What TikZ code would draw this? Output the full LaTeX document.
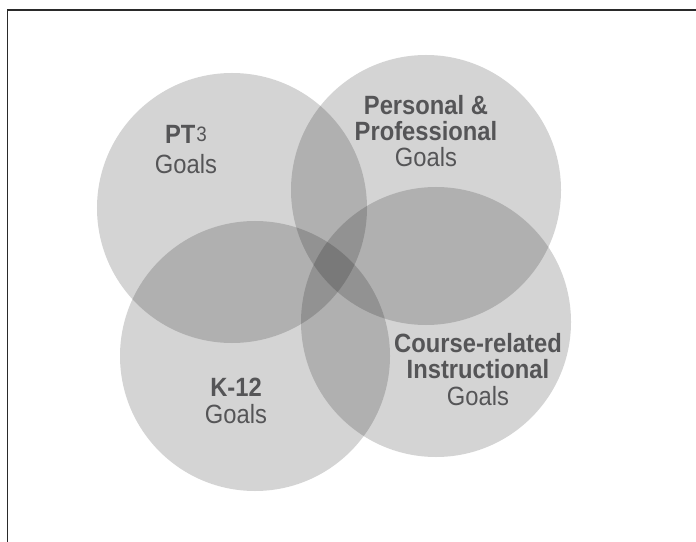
\documentclass[tikz,border=0pt]{standalone}
\usepackage{fontspec}
\setmainfont[FakeStretch=0.9]{Liberation Sans}
\definecolor{txt}{HTML}{555557}
\definecolor{framec}{HTML}{2A2A2A}
\begin{document}
\begin{tikzpicture}[x=1bp,y=-1bp,
  goal/.style={circle, minimum size=270bp, inner sep=0pt, fill=black, fill opacity=0.17, draw=none},
  lbl/.style={text=txt, font=\fontsize{26.5}{26.5}\selectfont, align=center, anchor=base, inner sep=0pt}]
\useasboundingbox (0,0) rectangle (696,542);
\draw[framec, line width=1.6bp] (7.5,542) -- (7.5,10) -- (696,10);
\node[goal] (pt3) at (232,208) {};
\node[goal] (pers) at (426,190) {};
\node[goal] (k12) at (255,356) {};
\node[goal] (course) at (436,322) {};
\node[lbl] (lpt3) at (186,174) {\textbf{PT}\kern1bp{\fontsize{21}{21}\selectfont\raisebox{2.5bp}{3}}\\[4bp]Goals};
\node[lbl] (lpers) at (426,167) {\textbf{Personal \&}\\\textbf{Professional}\\Goals};
\node[lbl] (lk12) at (236,423) {\textbf{K-12}\\Goals};
\node[lbl] (lcourse) at (478,405) {\textbf{Course-related}\\\textbf{Instructional}\\Goals};
\end{tikzpicture}
\end{document}
